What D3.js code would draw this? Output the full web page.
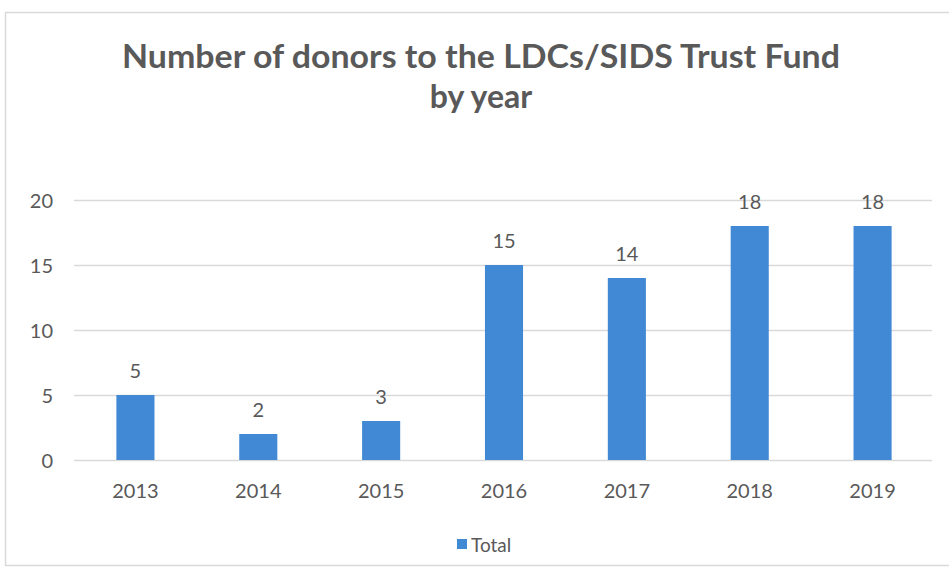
<!DOCTYPE html>
<html><head><meta charset="utf-8">
<script src="https://cdn.jsdelivr.net/npm/d3@7"></script>
<style>body{margin:0;background:#fff}svg{display:block}</style>
</head><body>
<script>
const years = ["2013","2014","2015","2016","2017","2018","2019"];
const totals = [5,2,3,15,14,18,18];
const yTicks = [0,5,10,15,20];
const titleLines = ["Number of donors to the LDCs/SIDS Trust Fund","by year"];
const legendLabel = "Total";

const W = 949, H = 572;
const svg = d3.select("body").append("svg").attr("width", W).attr("height", H);
svg.append("rect").attr("x",0).attr("y",0).attr("width",W).attr("height",H).attr("fill","#fff");
svg.append("rect").attr("x",5.5).attr("y",12.5).attr("width",W+10).attr("height",553)
  .attr("fill","#fff").attr("stroke","#d9d9d9").attr("stroke-width",1.5);

const x = d3.scaleBand().domain(years).range([74,934]).paddingInner(0.69).paddingOuter(0.345);
const y = d3.scaleLinear().domain([0,20]).range([460,200]);
const txt = "#595959";
const font = "Lato, 'Open Sans', sans-serif";

// gridlines
svg.append("g").selectAll("line").data(yTicks).join("line")
  .attr("x1",74).attr("x2",932).attr("y1",d=>y(d)+0.5).attr("y2",d=>y(d)+0.5)
  .attr("stroke","#d9d9d9").attr("stroke-width",1.3);

// y axis labels
const yAxis = d3.axisLeft(y).tickValues(yTicks).tickSize(0).tickPadding(0);
const ya = svg.append("g").attr("transform","translate(53,0)").call(yAxis);
ya.select(".domain").remove();
ya.selectAll("text").attr("font-family",font).attr("font-size",20).attr("fill",txt).attr("dy","0.36em");

// x axis labels
const xAxis = d3.axisBottom(x).tickSize(0).tickPadding(0);
const xa = svg.append("g").attr("transform","translate(0,498)").call(xAxis);
xa.select(".domain").remove();
xa.selectAll("text").attr("font-family",font).attr("font-size",20).attr("fill",txt).attr("dy","0");

// bars
svg.append("g").selectAll("rect").data(years).join("rect")
  .attr("x",d=>x(d)).attr("width",x.bandwidth())
  .attr("y",(d,i)=>y(totals[i])).attr("height",(d,i)=>y(0)-y(totals[i]))
  .attr("fill","#4189d4");

// data labels
svg.append("g").selectAll("text").data(years).join("text")
  .attr("x",d=>x(d)+x.bandwidth()/2).attr("y",(d,i)=>y(totals[i])-17)
  .attr("text-anchor","middle").attr("font-family",font).attr("font-size",20).attr("fill",txt)
  .text((d,i)=>totals[i]);

// title
const tt = svg.append("g").selectAll("text").data(titleLines).join("text")
  .attr("x",481).attr("y",(d,i)=>68+i*40).attr("text-anchor","middle")
  .attr("font-family",font).attr("font-weight","bold").attr("font-size",32).attr("fill",txt)
  .text(d=>d);
tt.filter((d,i)=>i===0).attr("textLength",718).attr("lengthAdjust","spacingAndGlyphs");

// legend
svg.append("rect").attr("x",457).attr("y",539).attr("width",10).attr("height",10).attr("fill","#4189d4");
svg.append("text").attr("x",471).attr("y",552).attr("font-family",font).attr("font-size",19)
  .attr("fill",txt).text(legendLabel);
</script>
</body></html>
